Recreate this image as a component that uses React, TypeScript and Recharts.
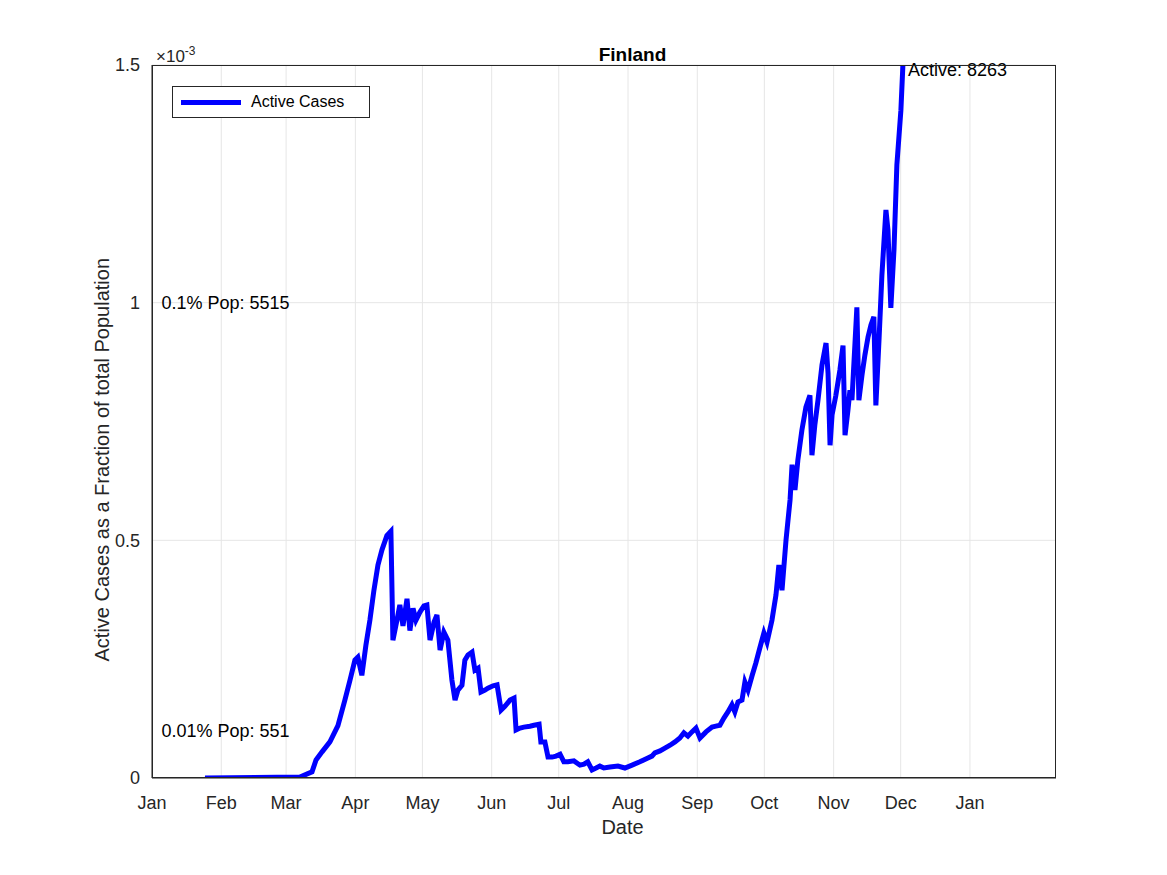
import React from "react";
import {
  LineChart,
  Line,
  XAxis,
  YAxis,
  CartesianGrid,
  ReferenceDot,
} from "recharts";

// Days since 1 Jan 2020
const days = [
  23.7, 66.2, 71.6, 73.4, 76.1, 79.6, 83.2, 86.3, 88.6, 90.8, 92.1, 93.9, 95.7, 97.5, 99.3, 101.1,
  102.9, 105.1, 106.9, 107.8, 109.6, 110.9, 112.3, 114.1, 115.4, 116.8, 118.1, 119.9, 121.7, 123,
  124.4, 126.2, 127.5, 128.9, 130.6, 132.4, 134.2, 135.6, 136.9, 138.7, 140, 141.4, 143.2, 144.5,
  145.9, 147.2, 149, 150.3, 152.6, 154.4, 156.2, 157.9, 160.2, 162, 162.9, 164.7, 166.4, 169.1,
  170.9, 173.2, 174, 175.8, 177.2, 179, 180.8, 182.6, 184.3, 186.1, 188.8, 191.5, 193.3, 195,
  196.9, 198.7, 200.4, 202.2, 204.9, 208.5, 211.6, 214.8, 218.3, 221.9, 223.7, 225, 227.3, 229.5,
  231.8, 234, 236.2, 238, 239.8, 241.6, 243.4, 245.2, 247.9, 250.6, 252.3, 254.1, 255.9, 257.7,
  259.5, 260.8, 262.2, 264, 265.3, 266.7, 268.5, 270.2, 272, 273.8, 275.2, 277.4, 279.2, 280.5,
  281.9, 283.7, 285.5, 286.4, 287.7, 289, 290.8, 292.6, 294.4, 295.3, 296.6, 298, 299.8, 301.6,
  302.5, 303.4, 304.3, 306, 307.8, 309.2, 310.1, 311.4, 312.3, 313.2, 314.5, 315.4, 316.3, 317.7,
  319, 320.4, 321.7, 323, 323.9, 325.3, 326.6, 328.4, 329.3, 330.6, 332, 333.3, 335.1, 336,
];

// Active cases as fraction of population, in units of 1e-3
const active = [
  0, 0.002, 0.013, 0.038, 0.055, 0.076, 0.11, 0.164, 0.206, 0.248, 0.254, 0.216, 0.279, 0.332, 0.395, 0.448,
  0.48, 0.51, 0.519, 0.29, 0.332, 0.364, 0.32, 0.377, 0.31, 0.357, 0.332, 0.349, 0.362, 0.364,
  0.29, 0.328, 0.343, 0.269, 0.307, 0.29, 0.206, 0.164, 0.185, 0.195, 0.248, 0.259, 0.265, 0.227,
  0.231, 0.181, 0.185, 0.189, 0.194, 0.196, 0.143, 0.151, 0.164, 0.168, 0.101, 0.105, 0.107, 0.109,
  0.111, 0.113, 0.076, 0.076, 0.044, 0.044, 0.046, 0.05, 0.034, 0.034, 0.036, 0.027, 0.029, 0.034,
  0.017, 0.021, 0.025, 0.021, 0.023, 0.025, 0.021, 0.027, 0.034, 0.042, 0.046, 0.053, 0.057, 0.063,
  0.069, 0.076, 0.084, 0.095, 0.088, 0.097, 0.105, 0.084, 0.097, 0.107, 0.109, 0.111, 0.126, 0.139,
  0.154, 0.139, 0.16, 0.164, 0.202, 0.185, 0.215, 0.242, 0.274, 0.305, 0.286, 0.332, 0.385, 0.448,
  0.395, 0.501, 0.585, 0.659, 0.606, 0.669, 0.732, 0.78, 0.805, 0.679, 0.743, 0.795, 0.869, 0.915,
  0.852, 0.7, 0.764, 0.805, 0.858, 0.91, 0.721, 0.774, 0.816, 0.795, 0.91, 0.99, 0.795, 0.848,
  0.89, 0.928, 0.953, 0.97, 0.784, 0.921, 1.058, 1.195, 1.153, 0.989, 1.111, 1.29, 1.405, 1.5,
];

const monthTicks = [0, 31, 60, 91, 121, 152, 182, 213, 244, 274, 305, 335, 366];
const monthLabels = ["Jan", "Feb", "Mar", "Apr", "May", "Jun", "Jul", "Aug", "Sep", "Oct", "Nov", "Dec", "Jan"];
const yTicks = [0, 0.5, 1, 1.5];

const data = days.map((d, i) => ({ day: d, active: active[i] }));

const font = "'Liberation Sans', Arial, sans-serif";
const tickStyle = { fill: "#262626", fontSize: 18, fontFamily: font };

export default function App() {
  return (
    <div style={{ position: "relative", width: 1159, height: 867, background: "#fff", fontFamily: font }}>
      <LineChart
        width={1159}
        height={867}
        data={data}
        margin={{ top: 57, right: 111, bottom: 57, left: 84 }}
      >
        <CartesianGrid stroke="#e6e6e6" verticalValues={monthTicks} horizontalValues={yTicks} />
        <XAxis
          dataKey="day"
          type="number"
          domain={[0, 404.5]}
          ticks={monthTicks}
          tickFormatter={(v, i) => monthLabels[i]}
          tick={tickStyle}
          tickLine={false}
          tickMargin={12}
          axisLine={{ stroke: "#262626" }}
          interval={0}
          allowDataOverflow
          height={40}
        />
        <YAxis
          type="number"
          domain={[0, 1.5]}
          ticks={yTicks}
          tickFormatter={(v) => String(v)}
          tick={tickStyle}
          tickLine={false}
          tickMargin={6}
          axisLine={{ stroke: "#262626" }}
          width={60}
          allowDataOverflow
          label={{ value: "Active Cases as a Fraction of total Population", angle: -90, position: "insideLeft", offset: 0, dx: 10, dy: 240, fill: "#262626", fontSize: 20, fontFamily: font, style: { textAnchor: "start" } }}
        />
        <Line dataKey="active" stroke="#0000ff" strokeWidth={5} dot={false} isAnimationActive={false} />
        <ReferenceDot x={2} y={1} r={0} ifOverflow="visible" label={{ value: "0.1% Pop: 5515", position: "right", fill: "#000", fontSize: 18, fontFamily: font }} />
        <ReferenceDot x={2} y={0.1} r={0} ifOverflow="visible" label={{ value: "0.01% Pop: 551", position: "right", fill: "#000", fontSize: 18, fontFamily: font }} />
        <ReferenceDot x={336} y={1.49} r={0} ifOverflow="visible" label={{ value: "Active: 8263", position: "right", fill: "#000", fontSize: 18, fontFamily: font }} />
      </LineChart>
      <div style={{ position: "absolute", left: 144, top: 57, width: 904, height: 713, border: "1px solid #262626", boxSizing: "border-box", pointerEvents: "none" }} />
      <div style={{ position: "absolute", left: 0, top: 808, width: 1159, textAlign: "center", fontSize: 20, color: "#262626", paddingLeft: 35 }}>
        Date
      </div>
      <div style={{ position: "absolute", left: 0, top: 36, width: 1159, textAlign: "center", fontWeight: "bold", fontSize: 19, color: "#000", paddingLeft: 45 }}>
        Finland
      </div>
      <div style={{ position: "absolute", left: 148, top: 36, fontSize: 17, color: "#262626" }}>
        ×10<sup style={{ fontSize: 12 }}>-3</sup>
      </div>
      <div style={{ position: "absolute", left: 164, top: 78, width: 196, height: 30, border: "1px solid #262626", background: "#fff", display: "flex", alignItems: "center", fontSize: 16 }}>
        <div style={{ width: 60, height: 5, background: "#0000ff", marginLeft: 8, marginRight: 10 }} />
        Active Cases
      </div>
    </div>
  );
}
